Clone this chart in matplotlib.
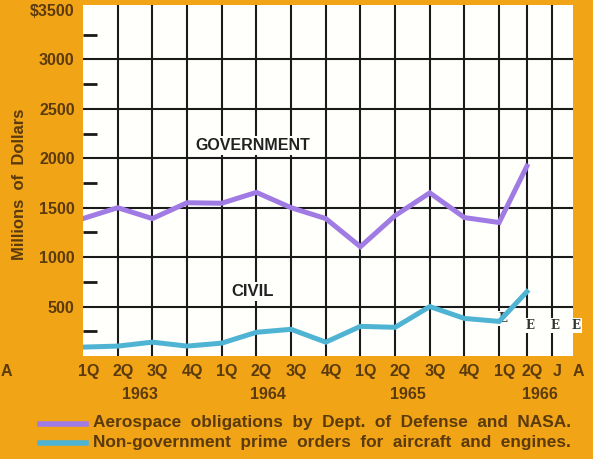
import matplotlib.pyplot as plt
from matplotlib.lines import Line2D

# quarterly figures, millions of dollars
positions = [0, 1, 2, 3, 4, 5, 6, 7, 8, 9, 10, 11, 12, 12.8]
government = [1390, 1500, 1390, 1550, 1545, 1655, 1500, 1390, 1105, 1420, 1650, 1400, 1350, 1920]
civil = [90, 100, 140, 100, 130, 240, 270, 140, 300, 290, 500, 380, 350, 650]

quarter_labels = ['1Q', '2Q', '3Q', '4Q', '1Q', '2Q', '3Q', '4Q', '1Q', '2Q', '3Q', '4Q', '1Q', '2Q', 'J', 'A']
quarter_pos = [0, 1, 2, 3, 4, 5, 6, 7, 8, 9, 10, 11, 12, 12.8, 13.52, 14.13]
years = ['1963', '1964', '1965', '1966']
year_pos = [1.64, 5.34, 9.37, 13.18]
estimate_pos = [12, 12.8, 13.52, 14.13]
y_major = [500, 1000, 1500, 2000, 2500, 3000]
y_minor = [250, 750, 1250, 1750, 2250, 2750, 3250]

orange = '#f1a416'
purple = '#a07be3'
cyan = '#4fb3d3'
brown = '#5b3a0c'

plt.rcParams['font.family'] = ['Liberation Sans', 'DejaVu Sans']

fig = plt.figure(figsize=(5.93, 4.59), dpi=100, facecolor=orange)
ax = fig.add_axes([83/593, 103/459, 490/593, 351/459])
ax.set_facecolor('#fffffb')
ax.set_xlim(0, 14.13)
ax.set_ylim(0, 3550)
for s in ax.spines.values():
    s.set_visible(False)

# grid
for x in quarter_pos[1:-1]:
    ax.axvline(x, color='#1a1a1a', lw=1.5, zorder=1)
for y in y_major:
    ax.axhline(y, color='#1a1a1a', lw=1.5, zorder=1)

ax.plot(positions, government, color=purple, lw=3.6, solid_joinstyle='miter', zorder=3)
ax.plot(positions, civil, color=cyan, lw=3.6, solid_joinstyle='miter', zorder=3)

ax.text(4.9, 2130, 'GOVERNMENT', ha='center', va='center', fontsize=11.5, fontweight='bold',
        color='#222222', bbox=dict(facecolor='#fffffb', edgecolor='none', pad=1.5), zorder=4)
ax.text(4.9, 650, 'CIVIL', ha='center', va='center', fontsize=12, fontweight='bold',
        color='#222222', bbox=dict(facecolor='#fffffb', edgecolor='none', pad=1.5), zorder=4)

for i, x in enumerate(estimate_pos):
    yy = 380 if i == 0 else 310
    ax.text(x + 0.1, yy, 'E', ha='center', va='center', fontsize=8.5, fontweight='bold',
            family='DejaVu Serif', color='#333333', clip_on=False,
            bbox=dict(facecolor='#fffffb', edgecolor='none', pad=0.8), zorder=2)

# y axis
ax.set_yticks(y_major + [3500])
ax.set_yticklabels(['500', '1000', '1500', '2000', '2500', '3000', '$3500'])
ax.set_yticks(y_minor, minor=True)
ax.tick_params(axis='y', which='major', length=0, pad=6, labelsize=11.5, labelcolor=brown)
ax.tick_params(axis='y', which='minor', direction='in', length=10, width=2, color='#1a1a1a', pad=0)
for t in ax.get_yticklabels():
    t.set_fontweight('bold')

# x axis
ax.set_xticks([])
for lab, x in zip(quarter_labels, quarter_pos):
    ax.text(x + 0.15, -160, lab, ha='center', va='center', fontsize=11.5, fontweight='bold',
            color=brown, clip_on=False)
for lab, x in zip(years, year_pos):
    ax.text(x, -390, lab, ha='center', va='center', fontsize=11.5, fontweight='bold',
            color=brown, clip_on=False)

fig.text(20/593, 1 - 184/459, 'Millions  of  Dollars', rotation=90, ha='center', va='center',
         fontsize=12, fontweight='bold', color=brown)
fig.text(0.5/593, 1 - 371/459, 'A', ha='left', va='center', fontsize=11.5,
         fontweight='bold', color=brown)

# legend
for y, col, lab in [(424, purple, 'Aerospace  obligations  by  Dept.  of  Defense  and  NASA.'),
                    (443, cyan, 'Non-government  prime  orders  for  aircraft  and  engines.')]:
    fig.add_artist(Line2D([40/593, 86/593], [1 - y/459, 1 - y/459], color=col, lw=4,
                          transform=fig.transFigure))
    fig.text(93/593, 1 - (y - 1)/459, lab, ha='left', va='center', fontsize=12.4,
             fontweight='bold', color=brown)

fig.savefig('out.png', dpi=100, facecolor=orange)
